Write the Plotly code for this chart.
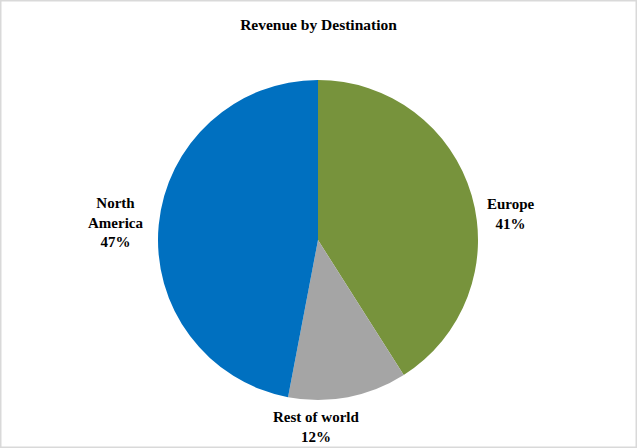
import plotly.graph_objects as go

categories = ["Europe", "Rest of world", "North America"]
display_labels = ["Europe", "Rest of world", "North<br>America"]
values = [41, 12, 47]
colors = ["#77933C", "#A5A5A5", "#0070C0"]
# label anchor positions (paper fractions) for the outside data labels
label_x = [511 / 637, 316 / 637, 115 / 637]
label_y = [1 - 214 / 448, 1 - 427 / 448, 1 - 222 / 448]

W, H = 637, 448
cx, cy, r = 318, 240, 160

fig = go.Figure(go.Pie(
    labels=categories,
    values=values,
    textinfo="none",
    sort=False,
    direction="clockwise",
    rotation=0,
    marker=dict(colors=colors, line=dict(width=0)),
    domain=dict(x=[(cx - r) / W, (cx + r) / W], y=[(H - cy - r) / H, (H - cy + r) / H]),
    showlegend=False,
    hoverinfo="label+percent",
))

total = sum(values)
annotations = []
for lab, v, x, y in zip(display_labels, values, label_x, label_y):
    annotations.append(dict(
        text=f"<b>{lab}<br>{round(100 * v / total)}%</b>",
        x=x, y=y, xref="paper", yref="paper", xanchor="center", yanchor="middle",
        showarrow=False, align="center",
        font=dict(family="Liberation Serif", size=15, color="#000000"),
    ))

fig.update_layout(
    width=W, height=H,
    margin=dict(l=0, r=0, t=0, b=0),
    paper_bgcolor="white",
    title=dict(text="<b>Revenue by Destination</b>", x=0.5, xanchor="center",
               y=1 - 25 / H, yanchor="middle", yref="container",
               font=dict(family="Liberation Serif", size=15.5, color="#000000")),
    annotations=annotations,
    shapes=[dict(type="rect", xref="paper", yref="paper", x0=0, y0=0, x1=1, y1=1,
                 line=dict(color="#D9D9D9", width=3))],
)

fig.write_html("out.html", config={"displayModeBar": False},
               post_script="document.body.style.margin='0';document.body.style.overflow='hidden';")
